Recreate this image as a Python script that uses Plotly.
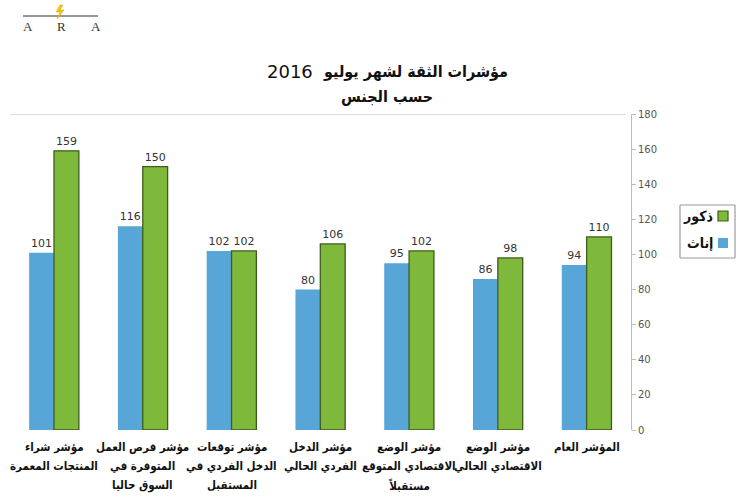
import plotly.graph_objects as go

categories = [
    "مؤشر شراء<br>المنتجات المعمرة",
    "مؤشر فرص العمل<br>المتوفرة في<br>السوق حاليا",
    "مؤشر توقعات<br>الدخل الفردي في<br>المستقبل",
    "مؤشر الدخل<br>الفردي الحالي",
    "مؤشر الوضع<br>الاقتصادي المتوقع<br>مستقبلاً",
    "مؤشر الوضع<br>الاقتصادي الحالي",
    "المؤشر العام",
]
females = [101, 116, 102, 80, 95, 86, 94]
males = [159, 150, 102, 106, 102, 98, 110]
series_names = ["إناث", "ذكور"]
y_ticks = [0, 20, 40, 60, 80, 100, 120, 140, 160, 180]
title_ar = "مؤشرات الثقة لشهر يوليو"
title_year = "2016"
subtitle = "حسب الجنس"

BLUE = "#58A6D8"
GREEN = "#7FB93C"
GREEN_EDGE = "#3E5C1B"
AR_FONT = "DejaVu Sans Condensed, DejaVu Sans"

W, H = 738, 500
ML, MR, MT, MB = 8, 107, 114, 70
PW = W - ML - MR
PH = H - MT - MB


def px(x):
    return (x - ML) / PW


def py(y):
    return (H - MB - y) / PH


def poly(points, close=True):
    s = "M " + " L ".join(f"{px(a):.5f},{py(b):.5f}" for a, b in points)
    return s + (" Z" if close else "")


def seg(x0, y0, x1, y1, color, width):
    return dict(type="line", xref="paper", yref="paper", x0=px(x0), y0=py(y0), x1=px(x1), y1=py(y1),
                line=dict(color=color, width=width))


fig = go.Figure()
fig.add_trace(go.Bar(
    x=categories, y=females, name=series_names[0],
    marker=dict(color=BLUE, line=dict(width=0)),
    text=females, textposition="outside",
    textfont=dict(size=11, color="#333", family="DejaVu Sans"),
    cliponaxis=False,
))
fig.add_trace(go.Bar(
    x=categories, y=males, name=series_names[1],
    marker=dict(color=GREEN, line=dict(width=1.3, color=GREEN_EDGE)),
    text=males, textposition="outside",
    textfont=dict(size=11, color="#333", family="DejaVu Sans"),
    cliponaxis=False,
))

shapes = []
shapes.append(dict(type="line", xref="paper", yref="y", x0=px(10), x1=px(626), y0=180, y1=180,
                   line=dict(color="#CFCFCF", width=1.5)))
# legend frame (four sides)
FR = "#9A9A9A"
shapes += [seg(680, 205, 735, 205, FR, 1.2), seg(735, 205, 735, 258, FR, 1.2),
           seg(735, 258, 680, 258, FR, 1.2), seg(680, 258, 680, 205, FR, 1.2)]
shapes.append(dict(type="path", xref="paper", yref="paper",
                   path=poly([(718, 211), (728, 211), (728, 221), (718, 221)]),
                   line=dict(color=GREEN_EDGE, width=1.2), fillcolor=GREEN))
shapes.append(dict(type="path", xref="paper", yref="paper",
                   path=poly([(718, 238), (728, 238), (728, 248), (718, 248)]),
                   line=dict(width=0), fillcolor=BLUE))
shapes.append(seg(23, 16, 98, 16, "#333", 1.2))
shapes.append(dict(type="path", xref="paper", yref="paper",
                   path=poly([(60, 5), (56, 12), (60, 12), (57, 19), (64, 10), (60, 10), (63, 5)]),
                   fillcolor="#F2C313", line=dict(color="#E0A800", width=0.5)))

annotations = [
    dict(text="<b>" + title_ar + "</b>", x=px(510), y=py(72),
         xref="paper", yref="paper", showarrow=False, xanchor="right", yanchor="middle",
         font=dict(size=16, color="#111", family=AR_FONT)),
    dict(text=title_year, x=px(265), y=py(72),
         xref="paper", yref="paper", showarrow=False, xanchor="left", yanchor="middle",
         font=dict(size=18, color="#111", family="DejaVu Sans")),
    dict(text="<b>" + subtitle + "</b>", x=px(387), y=py(97),
         xref="paper", yref="paper", showarrow=False, xanchor="center", yanchor="middle",
         font=dict(size=16, color="#111", family=AR_FONT)),
    dict(text="<b>" + series_names[1] + "</b>", x=px(715), y=py(216), xref="paper", yref="paper",
         showarrow=False, xanchor="right", yanchor="middle", font=dict(size=14, color="#111", family=AR_FONT)),
    dict(text="<b>" + series_names[0] + "</b>", x=px(715), y=py(243), xref="paper", yref="paper",
         showarrow=False, xanchor="right", yanchor="middle", font=dict(size=14, color="#111", family=AR_FONT)),
]
for lx, letter in [(28, "A"), (62, "R"), (96, "A")]:
    annotations.append(dict(text=letter, x=px(lx), y=py(26), xref="paper", yref="paper",
                            showarrow=False, xanchor="center", yanchor="middle",
                            font=dict(size=13, color="#333", family="Liberation Serif")))

for cat in categories:
    for j, line in enumerate(cat.split("<br>")):
        annotations.append(dict(text="<b>" + line + "</b>", x=cat, xref="x", y=0, yref="paper",
                                yshift=-(17 + 19 * j), showarrow=False, xanchor="center", yanchor="middle",
                                font=dict(size=11.5, color="#111", family=AR_FONT)))

fig.update_layout(
    width=W, height=H,
    margin=dict(l=ML, r=MR, t=MT, b=MB, pad=0),
    paper_bgcolor="white", plot_bgcolor="white",
    barmode="group", bargap=0.44, bargroupgap=0,
    showlegend=False,
    shapes=shapes, annotations=annotations,
    font=dict(family=AR_FONT, color="#111"),
    xaxis=dict(showline=False, showgrid=False, zeroline=False, ticks="", showticklabels=False),
    yaxis=dict(side="right", range=[0, 180], tickvals=y_ticks, showgrid=False, zeroline=False,
               showline=True, linecolor="#BDBDBD", linewidth=1, ticks="outside", ticklen=4,
               tickcolor="#BDBDBD", tickfont=dict(size=10, color="#555", family="DejaVu Sans")),
)

fig.write_html("out.html")
